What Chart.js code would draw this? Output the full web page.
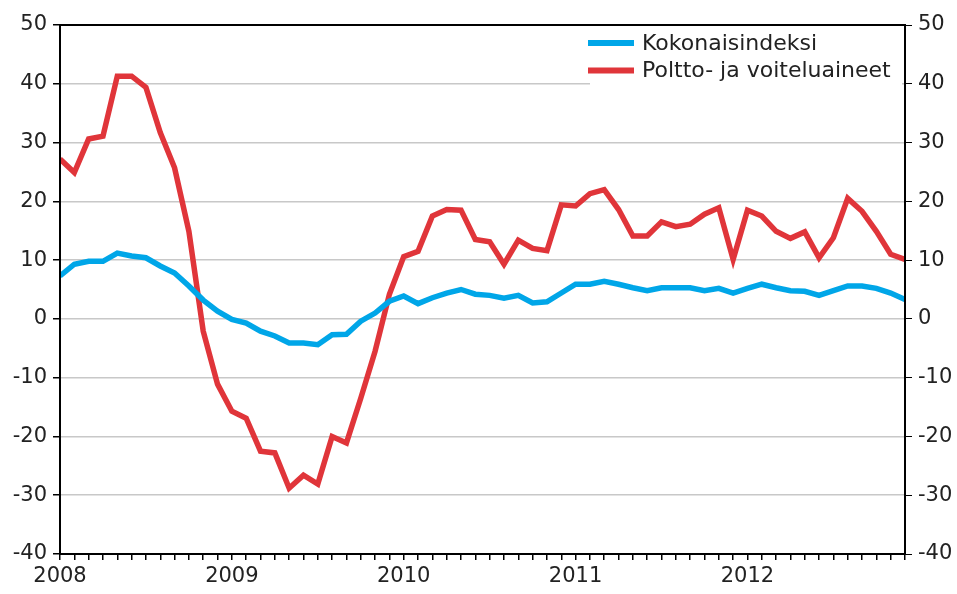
<!DOCTYPE html>
<html>
<head>
<meta charset="utf-8">
<script src="https://cdn.jsdelivr.net/npm/chart.js@4"></script>
<style>
  html, body { margin: 0; padding: 0; background: #fff; }
  #wrap { width: 957px; height: 594px; }
</style>
</head>
<body>
<div id="wrap"><canvas id="chart" width="957" height="594"></canvas></div>
<script>
// Monthly values, Jan 2008 - Dec 2012
const years = ["2008", "2009", "2010", "2011", "2012"];

const kokonaisindeksi = [
  7.3, 9.3, 9.8, 9.8, 11.2, 10.7, 10.4, 9.0, 7.8, 5.6, 3.2, 1.3,
  -0.1, -0.7, -2.1, -2.9, -4.1, -4.1, -4.4, -2.7, -2.6, -0.4, 1.0, 3.0,
  3.9, 2.6, 3.6, 4.4, 5.0, 4.2, 4.0, 3.5, 4.0, 2.7, 2.9, 4.4,
  5.9, 5.9, 6.4, 5.9, 5.3, 4.8, 5.3, 5.3, 5.3, 4.8, 5.2, 4.4,
  5.2, 5.9, 5.3, 4.8, 4.7, 4.0, 4.8, 5.6, 5.6, 5.2, 4.4, 3.3
];

const polttoaineet = [
  27.2, 24.9, 30.6, 31.1, 41.3, 41.3, 39.4, 31.7, 25.7, 14.9, -2.1, -11.1,
  -15.7, -16.9, -22.5, -22.8, -28.8, -26.6, -28.1, -20.0, -21.1, -13.5, -5.5, 4.2,
  10.6, 11.5, 17.5, 18.6, 18.5, 13.5, 13.1, 9.3, 13.4, 12.0, 11.6, 19.4,
  19.2, 21.3, 22.0, 18.6, 14.1, 14.1, 16.5, 15.7, 16.1, 17.8, 18.9, 10.1,
  18.5, 17.5, 14.9, 13.7, 14.8, 10.4, 13.8, 20.5, 18.3, 14.9, 11.0, 10.1
];

const labelKokonais = "Kokonaisindeksi";
const labelPoltto = "Poltto- ja voiteluaineet";

const FONT = "DejaVu Sans";
const TEXT = "#222222";

const toPoints = (arr) => arr.map((v, i) => ({ x: i, y: v }));

// legend in the top right corner of the plot, on a white box
const boxLegend = {
  id: "boxLegend",
  afterDatasetsDraw(chart) {
    const ctx = chart.ctx;
    const area = chart.chartArea;
    ctx.save();
    ctx.fillStyle = "#ffffff";
    ctx.fillRect(590, area.top + 1, area.right - 3 - 590, 62);
    ctx.font = "22px '" + FONT + "'";
    ctx.textBaseline = "middle";
    chart.data.datasets.forEach((ds, i) => {
      const y = 43 + i * 27.5;
      ctx.strokeStyle = ds.borderColor;
      ctx.lineWidth = 6;
      ctx.beginPath();
      ctx.moveTo(588, y);
      ctx.lineTo(634, y);
      ctx.stroke();
      ctx.fillStyle = TEXT;
      ctx.fillText(ds.label, 642, y + 1);
    });
    ctx.restore();
  }
};

// black frame round the plot
const frame = {
  id: "frame",
  afterDraw(chart) {
    const a = chart.chartArea;
    const ctx = chart.ctx;
    ctx.save();
    ctx.strokeStyle = "#000";
    ctx.lineWidth = 2;
    ctx.strokeRect(a.left, a.top, a.right - a.left, a.bottom - a.top);
    ctx.restore();
  }
};

const yTicks = {
  min: -40,
  max: 50,
  stepSize: 10,
  color: TEXT,
  font: { family: FONT, size: 21 },
  padding: 6
};

new Chart(document.getElementById("chart"), {
  type: "line",
  data: {
    datasets: [
      {
        label: labelKokonais,
        data: toPoints(kokonaisindeksi),
        borderColor: "#00a6e8",
        borderWidth: 5.5,
        pointRadius: 0,
        tension: 0,
        yAxisID: "y"
      },
      {
        label: labelPoltto,
        data: toPoints(polttoaineet),
        borderColor: "#e0353a",
        borderWidth: 5.5,
        pointRadius: 0,
        tension: 0,
        yAxisID: "y"
      }
    ]
  },
  options: {
    responsive: false,
    animation: false,
    layout: { padding: { top: 25, left: 0, right: 0, bottom: 0 } },
    plugins: {
      legend: { display: false },
      tooltip: { enabled: false }
    },
    scales: {
      x: {
        type: "linear",
        min: 0,
        max: 59,
        border: { display: true, color: "#000", width: 2 },
        grid: { drawOnChartArea: false, drawTicks: true, tickLength: 6, color: "#000", lineWidth: 1.5 },
        ticks: {
          stepSize: 1,
          autoSkip: false,
          maxRotation: 0,
          color: TEXT,
          font: { family: FONT, size: 21 },
          padding: 4,
          callback: (v) => (v % 12 === 0 ? years[v / 12] : "")
        },
        afterFit: (s) => { s.height = 40; }
      },
      y: {
        position: "left",
        min: -40,
        max: 50,
        border: { display: true, color: "#000", width: 2 },
        grid: { color: "#c8c8c8", lineWidth: 1.5, tickLength: 7, tickColor: "#000" },
        ticks: yTicks,
        afterFit: (s) => { s.width = 60; }
      },
      y2: {
        position: "right",
        min: -40,
        max: 50,
        border: { display: true, color: "#000", width: 2 },
        grid: { drawOnChartArea: false, tickLength: 7, color: "#000" },
        ticks: yTicks,
        afterFit: (s) => { s.width = 52; }
      }
    }
  },
  plugins: [boxLegend, frame]
});
</script>
</body>
</html>
